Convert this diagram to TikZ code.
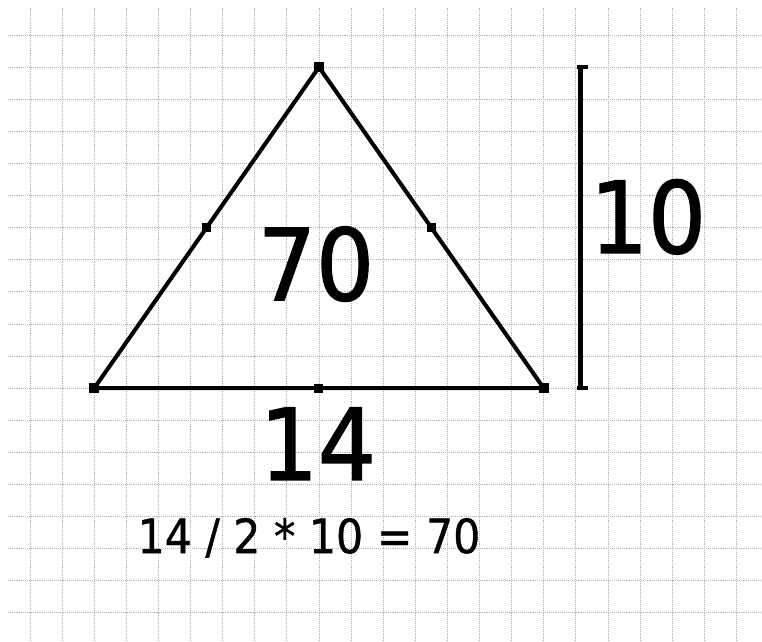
\documentclass[tikz,border=0pt]{standalone}
\usepackage{fontspec}
\newfontfamily\handfont[FakeStretch=0.9,FakeBold=0.8]{DejaVu Sans}
\newfontfamily\bighandfont[FakeStretch=0.92,FakeBold=1.4]{DejaVu Sans}
\usetikzlibrary{positioning,calc}

\begin{document}
\begin{tikzpicture}[
    gridline/.style={densely dotted, line width=0.7pt, color=gray!60},
    side/.style={line width=3.6pt, line cap=round, line join=round},
    corner/.style={rectangle, fill=black, minimum size=0.32cm, inner sep=0pt},
    midmark/.style={rectangle, fill=black, minimum size=0.28cm, inner sep=0pt},
    heightbar/.style={line width=4.4pt},
    bartick/.style={line width=3pt},
    bignum/.style={font=\bighandfont\fontsize{88}{88}\selectfont, anchor=base, inner sep=0pt},
    sumtext/.style={font=\handfont\fontsize{42}{42}\selectfont, anchor=base, inner sep=0pt}
]

\useasboundingbox (-0.935,1.09) rectangle (22.80,-18.88);
\fill[white] (-0.935,1.09) rectangle (22.80,-18.88);

% Squared paper
\draw[gridline] (-0.69,-18.88) grid (22.80,0.84);

% Triangle corners
\coordinate (A) at (2,-11);
\coordinate (B) at (16,-11);
\coordinate (C) at (9,-1);

% Sides
\draw[side] (A) -- (B) -- (C) -- cycle;

% Corner and midpoint marks
\node[corner] (amark) at (A) {};
\node[corner] (bmark) at (B) {};
\node[corner] (cmark) at (C) {};
\node[midmark] (abmid) at ($(A)!0.5!(B)$) {};
\node[midmark] (acmid) at ($(A)!0.5!(C)$) {};
\node[midmark] (bcmid) at ($(B)!0.5!(C)$) {};

% Height bar
\coordinate (bartop) at (17.15,-1);
\coordinate (barbot) at (17.15,-11);
\draw[heightbar] (bartop) -- (barbot);
\draw[bartick] ($(bartop)+(-0.12,0)$) -- ($(bartop)+(0.23,0)$);
\draw[bartick] ($(barbot)+(-0.12,0)$) -- ($(barbot)+(0.23,0)$);

% Labels
\node[bignum] (area) at (8.91,-8.26) {70};
\node[bignum] (base) at (8.97,-13.86) {14};
\node[bignum] (height) at (19.25,-6.79) {10};
\node[sumtext] (formula) at (8.69,-16.14) {14 / 2 * 10 = 70};

\end{tikzpicture}
\end{document}
